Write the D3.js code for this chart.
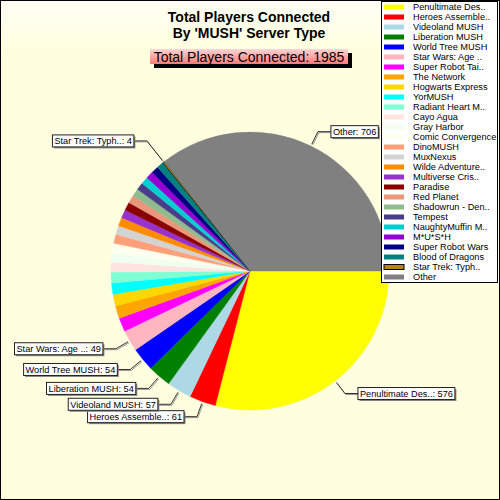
<!DOCTYPE html>
<html>
<head>
<meta charset="utf-8">
<script src="https://cdn.jsdelivr.net/npm/d3@7"></script>
<style>
  body { margin: 0; }
  svg { display: block; font-family: Arial, "Liberation Sans", sans-serif; }
</style>
</head>
<body>
<div id="chart"></div>
<script>
// server types, in the order the pie draws them
const names = [
  "Penultimate Des..", "Heroes Assemble..", "Videoland MUSH", "Liberation MUSH",
  "World Tree MUSH", "Star Wars: Age ..", "Super Robot Tai..", "The Network",
  "Hogwarts Express", "YorMUSH", "Radiant Heart M..", "Cayo Agua",
  "Gray Harbor", "Comic Convergence", "DinoMUSH", "MuxNexus",
  "Wilde Adventure..", "Multiverse Cris..", "Paradise", "Red Planet",
  "Shadowrun - Den..", "Tempest", "NaughtyMuffin M..", "M*U*S*H",
  "Super Robot Wars", "Blood of Dragons", "Star Trek: Typh..", "Other"
];
const values = [
  576, 61, 57, 54,
  54, 49, 32, 29,
  27, 26, 25, 23,
  22, 21, 21, 20,
  20, 19, 19, 18,
  18, 17, 17, 17,
  17, 16, 4, 706
];
const colors = [
  "#ffff00", "#ff0000", "#add8e6", "#008000",
  "#0000ff", "#ffb6c1", "#ff00ff", "#ffa500",
  "#ffd700", "#00ffff", "#7fffd4", "#ffe4e1",
  "#f0fff0", "#fffff0", "#ffa07a", "#d3d3d3",
  "#ff8c00", "#9932cc", "#8b0000", "#e9967a",
  "#8fbc8f", "#483d8b", "#00ced1", "#9400d3",
  "#000080", "#008080", "#b8860b", "#808080"
];
// slices that get a callout label
const labelled = [
  "Penultimate Des..", "Heroes Assemble..", "Videoland MUSH", "Liberation MUSH",
  "World Tree MUSH", "Star Wars: Age ..", "Star Trek: Typh..", "Other"
];

const total = d3.sum(values);
const width = 500, height = 500;
const cx = 250, cy = 271, radius = 139;

const data = names.map((n, i) => ({name: n, value: values[i], color: colors[i]}));

const svg = d3.select("#chart").append("svg")
  .attr("width", width)
  .attr("height", height);

const defs = svg.append("defs");
const bg = defs.append("linearGradient").attr("id", "bg")
  .attr("x1", 0).attr("y1", 0).attr("x2", 0).attr("y2", 1);
bg.append("stop").attr("offset", "0%").attr("stop-color", "#fffff4");
bg.append("stop").attr("offset", "10%").attr("stop-color", "#ffffe0");
bg.append("stop").attr("offset", "100%").attr("stop-color", "#ffffe0");

const pinkGrad = defs.append("linearGradient").attr("id", "pink")
  .attr("x1", 0).attr("y1", 0).attr("x2", 0).attr("y2", 1);
pinkGrad.append("stop").attr("offset", "0%").attr("stop-color", "#ffd6d6");
pinkGrad.append("stop").attr("offset", "100%").attr("stop-color", "#ff7a7a");

// background + border
svg.append("rect")
  .attr("x", 0.5).attr("y", 0.5)
  .attr("width", width - 1).attr("height", height - 1)
  .attr("fill", "url(#bg)")
  .attr("stroke", "#000");

// title
svg.append("text")
  .attr("x", 249).attr("y", 22)
  .attr("text-anchor", "middle")
  .style("font-size", "14px").style("font-weight", "bold")
  .text("Total Players Connected");
svg.append("text")
  .attr("x", 249).attr("y", 38)
  .attr("text-anchor", "middle")
  .style("font-size", "14px").style("font-weight", "bold")
  .text("By 'MUSH' Server Type");

// total box
const totalText = "Total Players Connected: " + total;
svg.append("rect")
  .attr("x", 154).attr("y", 53).attr("width", 198).attr("height", 15)
  .attr("fill", "#000");
svg.append("rect")
  .attr("x", 150).attr("y", 49).attr("width", 198).attr("height", 15)
  .attr("fill", "url(#pink)");
svg.append("text")
  .attr("x", 249).attr("y", 61.5)
  .attr("text-anchor", "middle")
  .style("font-size", "14px")
  .text(totalText);

// pie, starting at 3 o'clock and going clockwise
const pie = d3.pie()
  .sort(null)
  .value(d => d.value)
  .startAngle(Math.PI / 2)
  .endAngle(Math.PI / 2 + 2 * Math.PI);

const arc = d3.arc().innerRadius(0).outerRadius(radius);
const arcs = pie(data);

const g = svg.append("g").attr("transform", `translate(${cx},${cy})`);

g.selectAll("path.slice")
  .data(arcs)
  .join("path")
  .attr("class", "slice")
  .attr("d", arc)
  .attr("fill", d => d.data.color)
  .attr("stroke", d => d.data.name === "Star Trek: Typh.." ? "#000" : d.data.color)
  .attr("stroke-width", d => d.data.name === "Star Trek: Typh.." ? 0.7 : 0.4);

// callout labels
function pt(a, r) {
  return [Math.sin(a) * r, -Math.cos(a) * r];
}

const labelArcs = arcs.filter(d => labelled.includes(d.data.name));

labelArcs.forEach(d => {
  const a = (d.startAngle + d.endAngle) / 2;
  const right = Math.sin(a) > 0;
  // the thin slice's callout sticks out further
  const ext = d.value < 10 ? 27 : 16;
  const p0 = pt(a, radius + 2);
  const p1 = pt(a, radius + ext);
  const p2 = [p1[0] + (right ? 13 : -13), p1[1]];

  const line = d3.line()([p0, p1, p2]);
  g.append("path").attr("d", line)
    .attr("transform", "translate(1,1)")
    .attr("fill", "none").attr("stroke", "#999").attr("stroke-width", 1);
  g.append("path").attr("d", line)
    .attr("fill", "none").attr("stroke", "#333").attr("stroke-width", 1);

  const lg = g.append("g");
  const txt = lg.append("text")
    .attr("y", p2[1] + 3.5)
    .style("font-size", "9.2px")
    .text(d.data.name + ": " + d.data.value);
  const tw = txt.node().getComputedTextLength();
  const bw = tw + 4, bh = 12;
  const bx = right ? p2[0] : p2[0] - bw;
  txt.attr("x", bx + 2);

  lg.insert("rect", "text")
    .attr("x", bx + 1.5).attr("y", p2[1] - bh / 2 + 1.5)
    .attr("width", bw).attr("height", bh)
    .attr("fill", "#888");
  lg.insert("rect", "text")
    .attr("x", bx).attr("y", p2[1] - bh / 2)
    .attr("width", bw).attr("height", bh)
    .attr("fill", "#fff").attr("stroke", "#222").attr("stroke-width", 1);
});

// legend
const legendY = d3.scaleBand()
  .domain(names)
  .range([2, 282]);

const legend = svg.append("g");
legend.append("rect")
  .attr("x", 381.5).attr("y", 1.5)
  .attr("width", 116).attr("height", 281)
  .attr("fill", "#fff").attr("stroke", "#000");

const items = legend.selectAll("g.item")
  .data(data)
  .join("g")
  .attr("class", "item")
  .attr("transform", d => `translate(0,${legendY(d.name) + legendY.bandwidth() / 2})`);

items.append("rect")
  .attr("x", 384).attr("y", -2.5)
  .attr("width", 20).attr("height", 5)
  .attr("fill", d => d.color)
  .attr("stroke", d => d.name === "Star Trek: Typh.." ? "#000" : "none");

items.append("text")
  .attr("x", 413).attr("y", 3.3)
  .style("font-size", "9.2px")
  .text(d => d.name);
</script>
</body>
</html>
